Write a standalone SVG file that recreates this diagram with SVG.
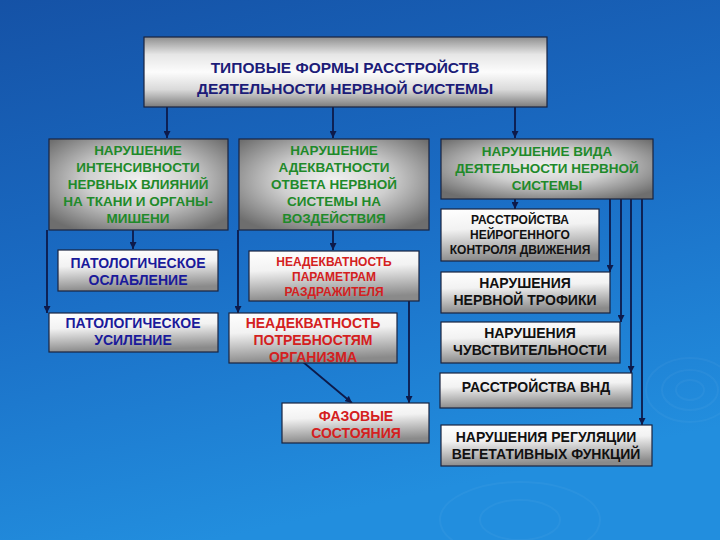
<svg xmlns="http://www.w3.org/2000/svg" width="720" height="540" viewBox="0 0 720 540">
<defs>
<linearGradient id="bg" x1="0" y1="0" x2="0.3" y2="1">
<stop offset="0" stop-color="#1552a6"/>
<stop offset="0.5" stop-color="#1a6cc4"/>
<stop offset="1" stop-color="#228ede"/>
</linearGradient>
<linearGradient id="gTop" x1="0" y1="0" x2="0" y2="1">
<stop offset="0" stop-color="#8e8e8e"/>
<stop offset="0.25" stop-color="#e6e6e6"/>
<stop offset="0.5" stop-color="#fcfcfc"/>
<stop offset="0.75" stop-color="#dadada"/>
<stop offset="1" stop-color="#7c7c7c"/>
</linearGradient>
<radialGradient id="gGreen" cx="0.5" cy="0.45" r="0.65">
<stop offset="0" stop-color="#f0f0f0"/>
<stop offset="0.45" stop-color="#cfcfcf"/>
<stop offset="1" stop-color="#6e6e6e"/>
</radialGradient>
<linearGradient id="gWhite" x1="0" y1="0" x2="0.15" y2="1">
<stop offset="0" stop-color="#ffffff"/>
<stop offset="0.4" stop-color="#f2f2f2"/>
<stop offset="1" stop-color="#8a8a8a"/>
</linearGradient>
<marker id="ah" viewBox="0 0 8 8" refX="8" refY="4" markerWidth="7" markerHeight="7" markerUnits="userSpaceOnUse" orient="auto">
<path d="M0,0 L8,4 L0,8 z" fill="#0d1a4a"/>
</marker>
<style>
.bx{stroke:#1a2440;stroke-width:1.2}
.top{fill:url(#gTop)}
.grn{fill:url(#gGreen)}
.wht{fill:url(#gWhite)}
text{font-family:"Liberation Sans",Arial,sans-serif;font-weight:bold;text-anchor:middle}
.tt{fill:#1c1c78;font-size:15.5px}
.tg{fill:#1f8a2a;font-size:13.5px}
.tb{fill:#1a1a9a;font-size:14px}
.tr{fill:#d42020;font-size:14px}
.trs{fill:#d42020;font-size:12px}
.tk{fill:#111111;font-size:14px}
.tks{fill:#111111;font-size:12px}
.cn{stroke:#0d1a4a;stroke-width:1.8;fill:none;marker-end:url(#ah)}
.rp{fill:none;stroke:#ffffff;stroke-opacity:0.04;stroke-width:2}
</style>
</defs>
<rect width="720" height="540" fill="url(#bg)"/>
<g id="ripples">
<ellipse class="rp" cx="690" cy="390" rx="14" ry="10"/>
<ellipse class="rp" cx="690" cy="390" rx="28" ry="20"/>
<ellipse class="rp" cx="690" cy="390" rx="44" ry="32"/>
<ellipse class="rp" cx="520" cy="520" rx="40" ry="20"/>
<ellipse class="rp" cx="520" cy="520" rx="80" ry="38"/>
</g>
<g id="connectors">
<line class="cn" x1="167" y1="107" x2="167" y2="138"/>
<line class="cn" x1="333" y1="107" x2="333" y2="138"/>
<line class="cn" x1="515" y1="107" x2="515" y2="138"/>
<line class="cn" x1="133" y1="230" x2="133" y2="249"/>
<line class="cn" x1="47" y1="230" x2="47" y2="313"/>
<line class="cn" x1="333" y1="230" x2="333" y2="250"/>
<line class="cn" x1="238" y1="230" x2="238" y2="313"/>
<line class="cn" x1="409" y1="301" x2="409" y2="403"/>
<line class="cn" x1="303" y1="362" x2="352" y2="403"/>
<line class="cn" x1="515" y1="199" x2="515" y2="209"/>
<line class="cn" x1="610" y1="199" x2="610" y2="272"/>
<line class="cn" x1="621" y1="199" x2="621" y2="322"/>
<line class="cn" x1="631" y1="199" x2="631" y2="373"/>
<line class="cn" x1="642" y1="199" x2="642" y2="425"/>
</g>
<g id="title">
<rect class="bx top" x="144" y="37" width="403" height="70"/>
<text class="tt" x="345" y="73">ТИПОВЫЕ ФОРМЫ РАССТРОЙСТВ</text>
<text class="tt" x="345" y="94">ДЕЯТЕЛЬНОСТИ НЕРВНОЙ СИСТЕМЫ</text>
</g>
<g id="intensity">
<rect class="bx grn" x="49" y="139" width="179" height="91"/>
<text class="tg" x="138" y="155">НАРУШЕНИЕ</text>
<text class="tg" x="138" y="172">ИНТЕНСИВНОСТИ</text>
<text class="tg" x="138" y="189">НЕРВНЫХ ВЛИЯНИЙ</text>
<text class="tg" x="138" y="206">НА ТКАНИ И ОРГАНЫ-</text>
<text class="tg" x="138" y="223">МИШЕНИ</text>
</g>
<g id="adequacy">
<rect class="bx grn" x="239" y="139" width="190" height="91"/>
<text class="tg" x="334" y="155">НАРУШЕНИЕ</text>
<text class="tg" x="334" y="172">АДЕКВАТНОСТИ</text>
<text class="tg" x="334" y="189">ОТВЕТА НЕРВНОЙ</text>
<text class="tg" x="334" y="206">СИСТЕМЫ НА</text>
<text class="tg" x="334" y="223">ВОЗДЕЙСТВИЯ</text>
</g>
<g id="kind">
<rect class="bx grn" x="441" y="139" width="212" height="60"/>
<text class="tg" x="547" y="156">НАРУШЕНИЕ ВИДА</text>
<text class="tg" x="547" y="173">ДЕЯТЕЛЬНОСТИ НЕРВНОЙ</text>
<text class="tg" x="547" y="190">СИСТЕМЫ</text>
</g>
<g id="weakening">
<rect class="bx wht" x="58" y="250" width="160" height="41"/>
<text class="tb" x="138" y="268">ПАТОЛОГИЧЕСКОЕ</text>
<text class="tb" x="138" y="285">ОСЛАБЛЕНИЕ</text>
</g>
<g id="strengthening">
<rect class="bx wht" x="49" y="313" width="169" height="39"/>
<text class="tb" x="133" y="328">ПАТОЛОГИЧЕСКОЕ</text>
<text class="tb" x="133" y="345">УСИЛЕНИЕ</text>
</g>
<g id="stimulus">
<rect class="bx wht" x="249" y="251" width="170" height="50"/>
<text class="trs" x="334" y="266">НЕАДЕКВАТНОСТЬ</text>
<text class="trs" x="334" y="281">ПАРАМЕТРАМ</text>
<text class="trs" x="334" y="296">РАЗДРАЖИТЕЛЯ</text>
</g>
<g id="needs">
<rect class="bx wht" x="229" y="313" width="168" height="50"/>
<text class="tr" x="313" y="328">НЕАДЕКВАТНОСТЬ</text>
<text class="tr" x="313" y="345">ПОТРЕБНОСТЯМ</text>
<text class="tr" x="313" y="362">ОРГАНИЗМА</text>
</g>
<g id="phase">
<rect class="bx wht" x="282" y="403" width="147" height="40"/>
<text class="tr" x="356" y="421">ФАЗОВЫЕ</text>
<text class="tr" x="356" y="438">СОСТОЯНИЯ</text>
</g>
<g id="motor">
<rect class="bx wht" x="441" y="209" width="158" height="52"/>
<text class="tks" x="520" y="224">РАССТРОЙСТВА</text>
<text class="tks" x="520" y="239">НЕЙРОГЕННОГО</text>
<text class="tks" x="520" y="254">КОНТРОЛЯ ДВИЖЕНИЯ</text>
</g>
<g id="trophic">
<rect class="bx wht" x="441" y="272" width="169" height="41"/>
<text class="tk" x="525" y="288">НАРУШЕНИЯ</text>
<text class="tk" x="525" y="305">НЕРВНОЙ ТРОФИКИ</text>
</g>
<g id="sensitivity">
<rect class="bx wht" x="441" y="322" width="179" height="41"/>
<text class="tk" x="530" y="338">НАРУШЕНИЯ</text>
<text class="tk" x="530" y="355">ЧУВСТВИТЕЛЬНОСТИ</text>
</g>
<g id="vnd">
<rect class="bx wht" x="440" y="373" width="192" height="35"/>
<text class="tk" x="536" y="392">РАССТРОЙСТВА ВНД</text>
</g>
<g id="vegetative">
<rect class="bx wht" x="441" y="425" width="211" height="41"/>
<text class="tk" x="546" y="442">НАРУШЕНИЯ РЕГУЛЯЦИИ</text>
<text class="tk" x="546" y="459">ВЕГЕТАТИВНЫХ ФУНКЦИЙ</text>
</g>
</svg>
